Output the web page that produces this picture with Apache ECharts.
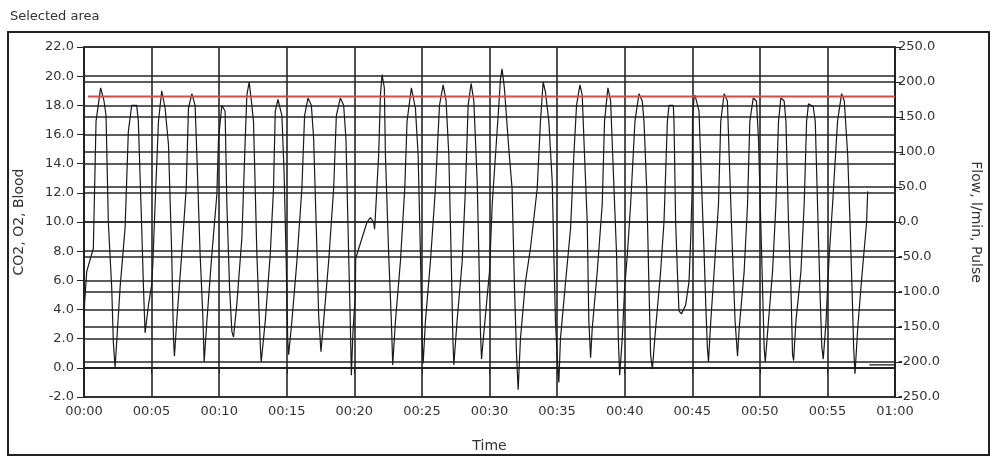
<!DOCTYPE html>
<html>
<head>
<meta charset="utf-8">
<script src="https://cdn.jsdelivr.net/npm/echarts@6/dist/echarts.min.js"></script>
<style>
  html, body { margin: 0; padding: 0; background: #fff; }
  #chart { width: 992px; height: 458px; }
</style>
</head>
<body>
<div id="chart"></div>
<script>
// breathing trace, seconds / left axis units
const breathTime = [
  0.0, 0.05, 0.2, 0.69, 0.89, 1.23, 1.48, 1.63, 1.8, 2.05, 2.17, 2.3, 2.42, 2.67, 3.04, 3.28, 3.53, 3.9,
  4.02, 4.27, 4.4, 4.52, 4.77, 5.01, 5.09, 5.26, 5.51, 5.75, 6.0, 6.25, 6.49, 6.62, 6.69, 6.86, 7.23,
  7.56, 7.73, 7.98, 8.22, 8.35, 8.59, 8.79, 8.89, 9.09, 9.46, 9.83, 9.95, 10.2, 10.44, 10.57, 10.77,
  10.94, 11.06, 11.3, 11.68, 11.93, 12.05, 12.22, 12.42, 12.54, 12.79, 13.04, 13.11, 13.41, 13.78,
  14.02, 14.15, 14.35, 14.64, 14.8, 14.96, 15.07, 15.14, 15.38, 15.75, 16.12, 16.32, 16.57, 16.82,
  16.99, 17.24, 17.36, 17.53, 17.73, 18.1, 18.47, 18.67, 18.96, 19.21, 19.38, 19.58, 19.7, 19.78,
  19.9, 20.07, 20.1, 20.57, 20.94, 21.19, 21.43, 21.5, 21.55, 21.8, 21.93, 22.05, 22.22, 22.3, 22.54,
  22.74, 22.84, 23.04, 23.41, 23.73, 23.9, 24.22, 24.52, 24.72, 24.89, 25.01, 25.09, 25.26, 25.63,
  26.0, 26.3, 26.57, 26.79, 26.99, 27.16, 27.29, 27.36, 27.6, 27.98, 28.22, 28.42, 28.64, 28.84,
  29.09, 29.21, 29.33, 29.41, 29.7, 30.0, 30.07, 30.2, 30.69, 30.81, 30.93, 31.1, 31.25, 31.43, 31.67,
  31.85, 32.0, 32.12, 32.29, 32.66, 33.03, 33.53, 33.77, 33.97, 34.14, 34.39, 34.64, 34.76, 34.88,
  35.0, 35.13, 35.25, 35.63, 36.0, 36.24, 36.44, 36.69, 36.86, 37.03, 37.23, 37.35, 37.48, 37.6,
  37.97, 38.34, 38.51, 38.76, 38.96, 39.21, 39.4, 39.53, 39.63, 39.82, 40.0, 40.2, 40.44, 40.76,
  41.06, 41.3, 41.43, 41.63, 41.8, 41.92, 42.05, 42.29, 42.66, 42.91, 43.16, 43.28, 43.6, 43.65,
  43.77, 43.9, 44.02, 44.2, 44.51, 44.76, 44.88, 45.0, 45.02, 45.13, 45.2, 45.26, 45.5, 45.7, 45.88,
  46.0, 46.12, 46.2, 46.37, 46.62, 46.94, 47.11, 47.36, 47.6, 47.73, 47.98, 48.17, 48.35, 48.47,
  48.84, 49.09, 49.26, 49.51, 49.75, 49.9, 50.07, 50.2, 50.32, 50.4, 50.64, 50.94, 51.19, 51.38,
  51.56, 51.8, 51.93, 52.12, 52.3, 52.42, 52.5, 52.67, 53.04, 53.28, 53.46, 53.6, 53.95, 54.1,
  54.27, 54.44, 54.59, 54.69, 54.9, 55.01, 55.14, 55.38, 55.75, 56.05, 56.25, 56.5, 56.67, 56.82,
  56.94, 57.04, 57.24, 57.48, 57.73, 57.9, 57.98
];
const breathCO2 = [
  3.6, 4.5, 6.6, 8.2, 16.9, 19.2, 18.3, 17.3, 10.0, 5.5, 1.8, 0.0, 1.8, 5.5, 9.6, 16.2, 18.0, 18.0,
  16.9, 9.6, 5.5, 2.4, 4.3, 5.7, 7.1, 11.2, 16.9, 19.0, 17.8, 15.3, 7.8, 2.0, 0.8, 3.2, 7.8,
  12.3, 17.8, 18.8, 18.0, 14.6, 7.8, 3.6, 0.4, 3.2, 7.8, 11.9, 15.7, 18.0, 17.6, 11.2, 5.5,
  2.5, 2.1, 4.3, 8.9, 15.7, 18.7, 19.6, 18.0, 16.9, 7.8, 1.6, 0.4, 3.2, 7.8,
  12.3, 17.6, 18.4, 17.3, 13.5, 7.3, 2.0, 0.9, 3.2, 7.3, 12.3, 17.3, 18.5, 18.0,
  15.7, 7.8, 3.6, 1.1, 3.2, 7.3, 12.3, 17.3, 18.5, 18.0, 15.7, 7.8, 3.2, -0.5,
  2.5, 5.0, 7.5, 8.9, 10.0, 10.3, 10.0, 9.5, 10.3, 14.6, 18.7, 20.1, 19.2, 14.6, 7.8,
  3.2, 0.2, 3.2, 7.3, 12.3, 16.9, 19.2, 17.8, 14.6, 7.8, 2.0, 0.3, 3.2, 7.3,
  12.3, 18.0, 19.4, 18.3, 14.6, 7.8, 2.0, 0.2, 3.2, 7.3, 12.3, 18.0, 19.5, 18.3,
  12.8, 7.8, 2.5, 0.6, 3.6, 6.6, 8.2, 11.2, 18.0, 19.8, 20.5, 19.2, 17.3, 15.0, 12.3,
  5.5, 0.9, -1.5, 2.0, 5.9, 8.2, 12.3, 16.9, 19.6, 18.9, 16.9, 12.8, 7.8, 3.2,
  0.9, -1.0, 2.0, 5.9, 9.6, 14.6, 18.0, 19.4, 18.7, 14.6, 10.0, 3.2, 0.7, 2.7,
  6.6, 11.2, 16.9, 19.2, 18.3, 12.3, 7.8, 2.0, -0.5, 2.0, 5.5, 7.8, 11.2, 16.9,
  18.8, 18.3, 16.9, 12.3, 5.5, 0.9, -0.1, 2.7, 6.6, 10.0, 16.9, 18.0, 18.0, 16.9,
  10.0, 6.6, 3.9, 3.7, 4.3, 5.9, 8.7, 12.5, 17.0, 18.5, 18.7, 18.5, 17.6, 12.3, 7.8,
  4.3, 1.4, 0.4, 3.2, 6.6, 11.2, 16.9, 18.8, 18.3, 14.6, 7.8, 3.2, 0.8, 2.7,
  6.6, 11.2, 16.9, 18.5, 18.3, 15.7, 10.0, 5.5, 1.4, 0.4, 3.2, 6.6, 11.2, 16.9,
  18.5, 18.3, 16.9, 10.0, 5.5, 0.9, 0.5, 3.2, 6.6, 11.2, 16.9, 18.1, 17.9, 16.9,
  11.2, 5.5, 1.4, 0.6, 3.2, 5.5, 7.8, 11.2, 16.9, 18.8, 18.3, 14.6, 10.0, 5.5,
  1.4, -0.4, 2.7, 5.5, 8.2, 10.0, 12.1
];

// red reference level (left axis)
const limitTime = [0.3, 60];
const limitValue = [18.6, 18.6];

// short flow segment at the end (right axis)
const flowTime = [58.1, 60];
const flowValue = [-204, -204];

const leftTicks = { min: -2, max: 22, step: 2 };
const rightTicks = { min: -250, max: 250, step: 50 };

const zip = (a, b) => a.map((x, i) => [x, b[i]]);

function fmtTime(s) {
  const m = Math.floor(s / 60);
  const r = Math.round(s % 60);
  return String(m).padStart(2, "0") + ":" + String(r).padStart(2, "0");
}

const gridColor = "#262626";
const textColor = "#333";
const font = "DejaVu Sans";

const chart = echarts.init(document.getElementById("chart"));
chart.setOption({
  animation: false,
  backgroundColor: "#fff",
  textStyle: { fontFamily: font },
  grid: { left: 84, right: 97, top: 47, bottom: 61 },
  graphic: [
    {
      type: "text",
      left: 10,
      top: 10,
      style: { text: "Selected area", fill: textColor, font: "13px " + font }
    },
    {
      type: "rect",
      shape: { x: 8, y: 32, width: 981, height: 423 },
      style: { fill: "none", stroke: "#222", lineWidth: 2 },
      silent: true
    }
  ],
  xAxis: {
    type: "value",
    min: 0,
    max: 60,
    interval: 5,
    name: "Time",
    nameLocation: "middle",
    nameGap: 42,
    nameTextStyle: { color: textColor, fontSize: 14 },
    axisLine: { show: true, lineStyle: { color: "#222", width: 2 } },
    axisTick: { show: true, length: 6, lineStyle: { color: "#222" } },
    axisLabel: { color: textColor, fontSize: 13, margin: 8, formatter: fmtTime },
    splitLine: { show: true, lineStyle: { color: gridColor, width: 1.6 } }
  },
  yAxis: [
    {
      type: "value",
      min: leftTicks.min,
      max: leftTicks.max,
      interval: leftTicks.step,
      name: "CO2, O2, Blood",
      nameLocation: "middle",
      nameGap: 58,
      nameRotate: 90,
      nameTextStyle: { color: textColor, fontSize: 14 },
      axisLine: { show: true, lineStyle: { color: "#222", width: 2 } },
      axisTick: { show: true, length: 7, lineStyle: { color: "#222" } },
      axisLabel: { color: textColor, fontSize: 13, margin: 10, formatter: v => v.toFixed(1) },
      splitLine: { show: true, lineStyle: { color: gridColor, width: 1.6 } }
    },
    {
      type: "value",
      position: "right",
      min: rightTicks.min,
      max: rightTicks.max,
      interval: rightTicks.step,
      name: "Flow, l/min, Pulse",
      nameLocation: "middle",
      nameGap: 74,
      nameRotate: -90,
      nameTextStyle: { color: textColor, fontSize: 14 },
      axisLine: { show: true, lineStyle: { color: "#222", width: 2 } },
      axisTick: { show: true, length: 7, lineStyle: { color: "#222" } },
      axisLabel: { color: textColor, fontSize: 13, margin: 3, formatter: v => v.toFixed(1) },
      splitLine: { show: true, lineStyle: { color: gridColor, width: 1.6 } }
    }
  ],
  series: [
    {
      name: "CO2",
      type: "line",
      yAxisIndex: 0,
      data: zip(breathTime, breathCO2),
      symbol: "none",
      lineStyle: { color: "#1a1a1a", width: 1.2 },
      z: 3
    },
    {
      name: "limit",
      type: "line",
      yAxisIndex: 0,
      data: zip(limitTime, limitValue),
      symbol: "none",
      lineStyle: { color: "#e0473f", width: 2 },
      z: 4
    },
    {
      name: "Flow",
      type: "line",
      yAxisIndex: 1,
      data: zip(flowTime, flowValue),
      symbol: "none",
      lineStyle: { color: "#1a1a1a", width: 1.2 },
      z: 3
    }
  ]
});
</script>
</body>
</html>
